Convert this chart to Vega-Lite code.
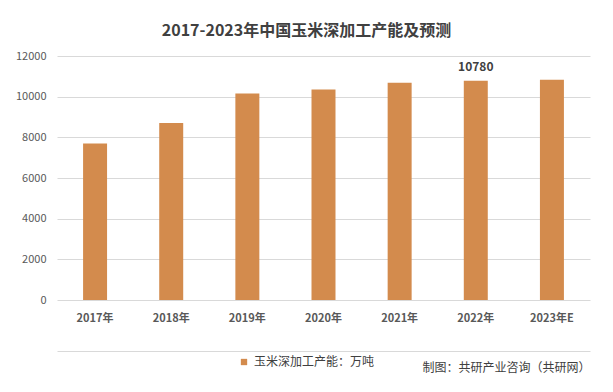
{
  "$schema": "https://vega.github.io/schema/vega-lite/v6.json",
  "width": 533,
  "height": 244,
  "autosize": "none",
  "padding": {"left": 57, "top": 56, "right": 23, "bottom": 92},
  "background": "white",
  "title": {
    "text": "2017-2023年中国玉米深加工产能及预测",
    "font": "Noto Sans CJK SC",
    "fontSize": 16,
    "fontWeight": "bold",
    "color": "#404040",
    "anchor": "middle",
    "dx": -17,
    "baseline": "middle",
    "offset": 3
  },
  "data": {
    "values": [
      {"year": "2017年", "value": 7700, "series": "玉米深加工产能：万吨"},
      {"year": "2018年", "value": 8700, "series": "玉米深加工产能：万吨"},
      {"year": "2019年", "value": 10150, "series": "玉米深加工产能：万吨"},
      {"year": "2020年", "value": 10350, "series": "玉米深加工产能：万吨"},
      {"year": "2021年", "value": 10690, "series": "玉米深加工产能：万吨"},
      {"year": "2022年", "value": 10780, "series": "玉米深加工产能：万吨"},
      {"year": "2023年E", "value": 10830, "series": "玉米深加工产能：万吨"}
    ]
  },
  "encoding": {
    "x": {
      "field": "year",
      "type": "nominal",
      "sort": null,
      "scale": {"paddingInner": 0.685, "paddingOuter": 0.3425},
      "axis": {
        "orient": "bottom",
        "offset": 51,
        "domain": true,
        "domainColor": "#D9D9D9",
        "domainWidth": 1,
        "ticks": false,
        "labelAngle": 0,
        "labelPadding": -39,
        "labelFont": "Noto Sans CJK SC",
        "labelFontSize": 11,
        "labelFontWeight": "bold",
        "labelColor": "#595959",
        "title": "制图：共研产业咨询（共研网）",
        "titleFont": "Noto Sans CJK SC",
        "titleFontSize": 12,
        "titleFontWeight": "normal",
        "titleColor": "#404040",
        "titleAlign": "right",
        "titleBaseline": "middle",
        "titleX": 533,
        "titleY": 16
      }
    },
    "y": {
      "field": "value",
      "type": "quantitative",
      "scale": {"domain": [0, 12000]},
      "axis": {
        "values": [0, 2000, 4000, 6000, 8000, 10000, 12000],
        "format": "d",
        "domain": false,
        "ticks": false,
        "grid": true,
        "gridColor": "#D9D9D9",
        "gridWidth": 1,
        "labelPadding": 11,
        "labelFont": "Noto Sans CJK SC",
        "labelFontSize": 11,
        "labelColor": "#595959",
        "title": null
      }
    }
  },
  "layer": [
    {
      "mark": {"type": "bar"},
      "encoding": {
        "color": {
          "field": "series",
          "type": "nominal",
          "scale": {"range": ["#D38B4D"]},
          "legend": {
            "title": null,
            "orient": "none",
            "legendX": 181,
            "legendY": 300,
            "padding": 0,
            "symbolType": "square",
            "symbolSize": 40,
            "symbolStrokeWidth": 0,
            "labelOffset": 4,
            "labelFont": "Noto Sans CJK SC",
            "labelFontSize": 12,
            "labelColor": "#404040"
          }
        }
      }
    },
    {
      "transform": [{"filter": "datum.year == '2022年'"}],
      "mark": {
        "type": "text",
        "baseline": "bottom",
        "dy": -7,
        "font": "Noto Sans CJK SC",
        "fontSize": 12,
        "fontWeight": "bold",
        "color": "#404040"
      },
      "encoding": {"text": {"field": "value", "type": "quantitative", "format": "d"}}
    }
  ],
  "config": {"view": {"stroke": null}}
}
